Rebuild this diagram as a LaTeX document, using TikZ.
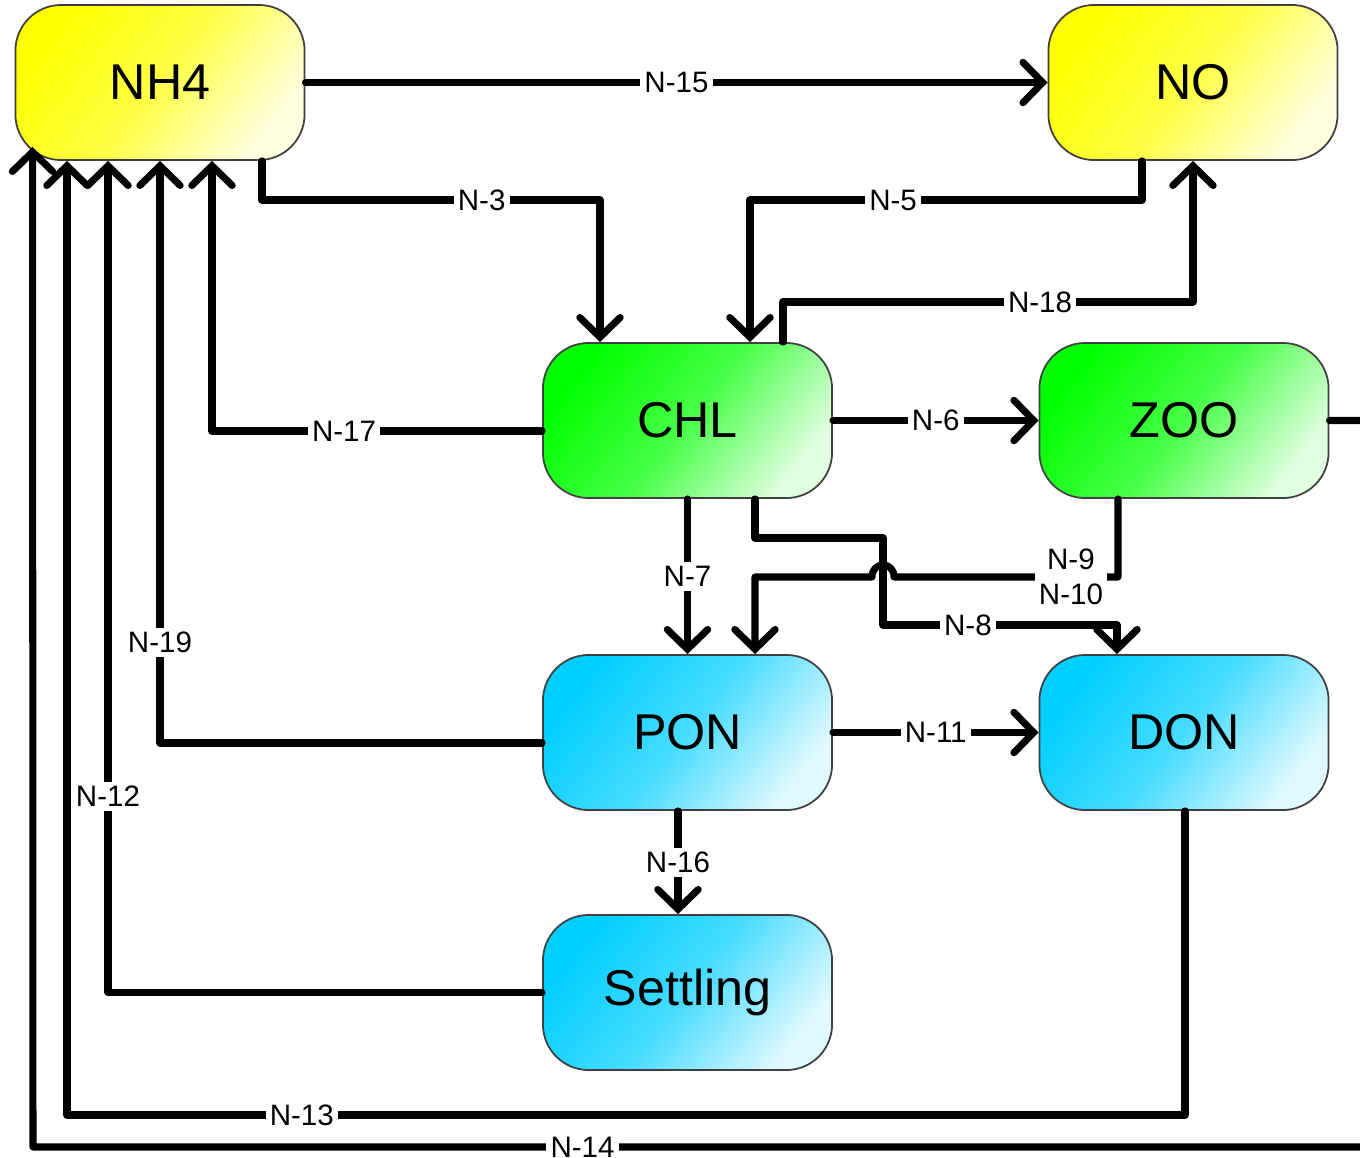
\documentclass[tikz,border=0pt]{standalone}
\usepackage{fontspec}
\setmainfont{Liberation Sans}
\usetikzlibrary{arrows.meta}

\definecolor{nhyellow}{RGB}{255,255,0}
\definecolor{chlgreen}{RGB}{0,255,0}
\definecolor{poncyan}{RGB}{0,206,255}

\begin{document}
\begin{tikzpicture}[x=0.01cm,y=-0.01cm,
    pool/.style={rounded corners=13pt,draw=black!75,line width=0.5pt,
      minimum width=2.89cm,minimum height=1.55cm,font=\fontsize{14.3}{16}\selectfont,
      top color=#1,bottom color=#1!12!white,middle color=#1!72!white,shading angle=52},
    flow/.style={line width=2pt,line cap=round,line join=round,
      -{Straight Barb[length=5.6pt,width=11.5pt,line cap=round]}},
    lbl/.style={fill=white,inner sep=1.2pt,font=\fontsize{8.4}{10}\selectfont}]
        \useasboundingbox (0,0) rectangle (1360,1157);
        \clip (0,0) rectangle (1360,1157);
        % pools
        \node[pool=nhyellow] (NH4) at (160,82.5) {NH4};
        \node[pool=nhyellow] (NO) at (1193,82.5) {NO};
        \node[pool=chlgreen] (CHL) at (687.5,420.5) {CHL};
        \node[pool=chlgreen] (ZOO) at (1184,420.5) {ZOO};
        \node[pool=poncyan] (PON) at (687.5,732.5) {PON};
        \node[pool=poncyan] (DON) at (1184,732.5) {DON};
        \node[pool=poncyan] (Settling) at (687.5,992.5) {Settling};
        % fluxes
        \draw[flow] (NH4.east) -- node[lbl]{N-15} (NO.west);
        \draw[flow] (NH4.south -| 262,0) -- (262,200) -- node[lbl,pos=0.65]{N-3} (600,200) -- (CHL.north -| 600,0);
        \draw[flow] (NO.south -| 1142,0) -- (1142,200) -- node[lbl,pos=0.635]{N-5} (750,200) -- (CHL.north -| 750,0);
        \draw[flow] (CHL.north -| 783,0) -- (783,302) -- node[lbl,pos=0.627]{N-18} (1193,302) -- (NO.south);
        \draw[flow] (CHL.east) -- node[lbl]{N-6} (ZOO.west);
        \draw[flow] (CHL.west |- 0,431) -- node[lbl,pos=0.6]{N-17} (212,431) -- (NH4.south -| 212,0);
        \draw[flow] (CHL.south) -- node[lbl]{N-7} (PON.north);
        \draw[flow] (CHL.south -| 755,0) -- (755,538) -- (883,538) -- (883,625) -- node[lbl,pos=0.363]{N-8} (1117,625) -- (DON.north -| 1117,0);
        \draw[flow] (ZOO.south -| 1118,0) -- (1118,577) -- node[lbl,pos=0.21,align=center]{N-9\\N-10} (894,577)
          .. controls (894,561) and (872,561) .. (872,577) -- (755,577) -- (PON.north -| 755,0);
        \draw[flow] (PON.east) -- node[lbl]{N-11} (DON.west);
        \draw[flow] (PON.west |- 0,743) -- (160,743) -- node[lbl,pos=0.173]{N-19} (NH4.south);
        \draw[flow] (PON.south -| 678,0) -- node[lbl]{N-16} (Settling.north -| 678,0);
        \draw[flow] (Settling.west) -- (108,992.5) -- node[lbl,pos=0.236]{N-12} (NH4.south -| 108,0);
        \draw[flow] (DON.south -| 1185,0) -- (1185,1115) -- node[lbl,pos=0.79]{N-13} (67,1115) -- (NH4.south -| 67,0);
        \draw[flow] (ZOO.east) -- (1390,420.5) -- (1390,1147) -- node[lbl,pos=0.595]{N-14} (33,1147) -- ([shift={(18,-14)}]NH4.south west);
      \end{tikzpicture}
\end{document}
